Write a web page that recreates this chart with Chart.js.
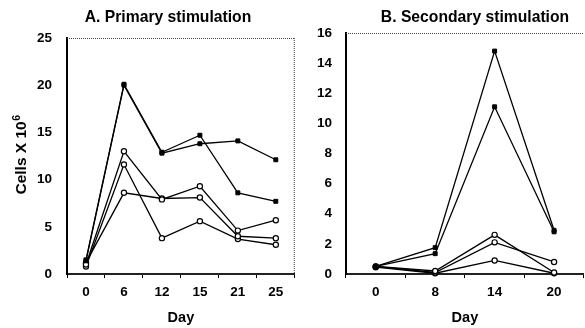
<!DOCTYPE html>
<html>
<head>
<meta charset="utf-8">
<script src="https://cdn.jsdelivr.net/npm/chart.js@4.4.1/dist/chart.umd.min.js"></script>
<style>
  html, body { margin: 0; padding: 0; background: #fff; }
  body { width: 585px; height: 328px; position: relative; overflow: hidden; }
  canvas { position: absolute; top: 0; }
  #panelA { left: 0; }
  #panelB { left: 300px; }
</style>
</head>
<body>
<canvas id="panelA" width="300" height="328"></canvas>
<canvas id="panelB" width="289" height="328"></canvas>
<script>
// Panel A - primary stimulation
const daysA = ['0', '6', '12', '15', '21', '25'];
const primaryFilled1 = [1.5, 20.1, 12.9, 14.7, 8.6, 7.7];
const primaryFilled2 = [1.4, 20.0, 12.8, 13.8, 14.1, 12.1];
const primaryOpen1 = [1.0, 13.0, 7.9, 9.3, 4.6, 5.7];
const primaryOpen2 = [1.2, 8.6, 8.0, 8.1, 4.0, 3.8];
const primaryOpen3 = [0.8, 11.6, 3.8, 5.6, 3.7, 3.1];

// Panel B - secondary stimulation
const daysB = ['0', '8', '14', '20'];
const secondaryFilled1 = [0.5, 1.75, 14.8, 2.9];
const secondaryFilled2 = [0.5, 1.35, 11.1, 2.8];
const secondaryOpen1 = [0.5, 0.2, 2.6, 0.1];
const secondaryOpen2 = [0.5, 0.1, 2.1, 0.8];
const secondaryOpen3 = [0.45, 0.05, 0.9, 0.05];

const FONT = '"Liberation Sans", Arial, sans-serif';

// dotted frame, panel title and y label
const panelDecor = {
    id: 'panelDecor',
    afterDraw(chart, args, opts) {
        const { ctx, chartArea: a } = chart;
        ctx.save();
        ctx.strokeStyle = '#444';
        ctx.lineWidth = 1;
        ctx.setLineDash([1, 1]);
        ctx.beginPath();
        ctx.moveTo(a.left, a.top + 0.5);
        ctx.lineTo(a.right, a.top + 0.5);
        if (opts.rightBorder) {
            ctx.moveTo(a.right - 0.5, a.top);
            ctx.lineTo(a.right - 0.5, a.bottom);
        }
        ctx.stroke();
        ctx.setLineDash([]);

        ctx.fillStyle = '#000';
        ctx.font = 'bold 15.7px ' + FONT;
        ctx.textAlign = 'center';
        ctx.textBaseline = 'middle';
        ctx.fillText(opts.title, opts.titleX, opts.titleY);

        if (opts.yLabel) {
            ctx.translate(opts.yLabelX, opts.yLabelY);
            ctx.rotate(-Math.PI / 2);
            ctx.font = 'bold 15.5px ' + FONT;
            const w1 = ctx.measureText(opts.yLabel).width;
            ctx.font = 'bold 10.5px ' + FONT;
            const w2 = ctx.measureText(opts.yLabelSup).width;
            const x0 = -(w1 + w2) / 2;
            ctx.textAlign = 'left';
            ctx.font = 'bold 15.5px ' + FONT;
            ctx.fillText(opts.yLabel, x0, 0);
            ctx.font = 'bold 10.5px ' + FONT;
            ctx.fillText(opts.yLabelSup, x0 + w1 + 0.5, -5);
        }
        ctx.restore();
    }
};

function filledSet(values) {
    return {
        data: values,
        borderColor: '#000',
        borderWidth: 1.3,
        pointStyle: 'rect',
        pointRadius: 2.8,
        pointBackgroundColor: '#000',
        pointBorderColor: '#000',
        pointBorderWidth: 1,
        tension: 0,
        clip: false
    };
}

function openSet(values) {
    return {
        data: values,
        borderColor: '#000',
        borderWidth: 1.3,
        pointStyle: 'circle',
        pointRadius: 2.6,
        pointBackgroundColor: '#fff',
        pointBorderColor: '#000',
        pointBorderWidth: 1.2,
        tension: 0,
        clip: false
    };
}

function makeOptions(cfg) {
    return {
        responsive: false,
        animation: false,
        layout: { padding: { top: cfg.top, right: cfg.right, bottom: 0, left: 0 } },
        plugins: {
            legend: { display: false },
            tooltip: { enabled: false },
            panelDecor: cfg.decor
        },
        scales: {
            x: {
                type: 'category',
                offset: true,
                afterFit: scale => { scale.height = 54; },
                grid: {
                    offset: true,
                    drawOnChartArea: false,
                    drawTicks: true,
                    tickLength: 4,
                    color: '#000',
                    lineWidth: 1
                },
                border: { display: true, color: '#222', width: 2 },
                ticks: {
                    color: '#000',
                    padding: 6,
                    font: { family: FONT, size: 13.5, weight: 'bold' }
                },
                title: {
                    display: true,
                    text: 'Day',
                    color: '#000',
                    padding: { top: 0, bottom: 1 },
                    font: { family: FONT, size: 14.5, weight: 'bold' }
                }
            },
            y: {
                min: 0,
                max: cfg.yMax,
                afterFit: scale => { scale.width = cfg.yWidth; },
                grid: { display: false },
                border: { display: true, color: '#000', width: 2 },
                ticks: {
                    stepSize: cfg.yStep,
                    color: '#000',
                    padding: cfg.yPad,
                    font: { family: FONT, size: 13.5, weight: 'bold' }
                }
            }
        }
    };
}

new Chart(document.getElementById('panelA'), {
    type: 'line',
    data: {
        labels: daysA,
        datasets: [
            filledSet(primaryFilled1),
            filledSet(primaryFilled2),
            openSet(primaryOpen1),
            openSet(primaryOpen2),
            openSet(primaryOpen3)
        ]
    },
    options: makeOptions({
        top: 38, right: 5, yMax: 25, yStep: 5, yWidth: 67, yPad: 7,
        decor: {
            title: 'A. Primary stimulation', titleX: 168, titleY: 18,
            rightBorder: true,
            yLabel: 'Cells X 10', yLabelSup: '6', yLabelX: 22, yLabelY: 155
        }
    }),
    plugins: [panelDecor]
});

new Chart(document.getElementById('panelB'), {
    type: 'line',
    data: {
        labels: daysB,
        datasets: [
            filledSet(secondaryFilled1),
            filledSet(secondaryFilled2),
            openSet(secondaryOpen1),
            openSet(secondaryOpen2),
            openSet(secondaryOpen3)
        ]
    },
    options: makeOptions({
        top: 33, right: 0, yMax: 16, yStep: 2, yWidth: 46, yPad: 6,
        decor: {
            title: 'B. Secondary stimulation', titleX: 175, titleY: 18,
            rightBorder: false
        }
    }),
    plugins: [panelDecor]
});
</script>
</body>
</html>
